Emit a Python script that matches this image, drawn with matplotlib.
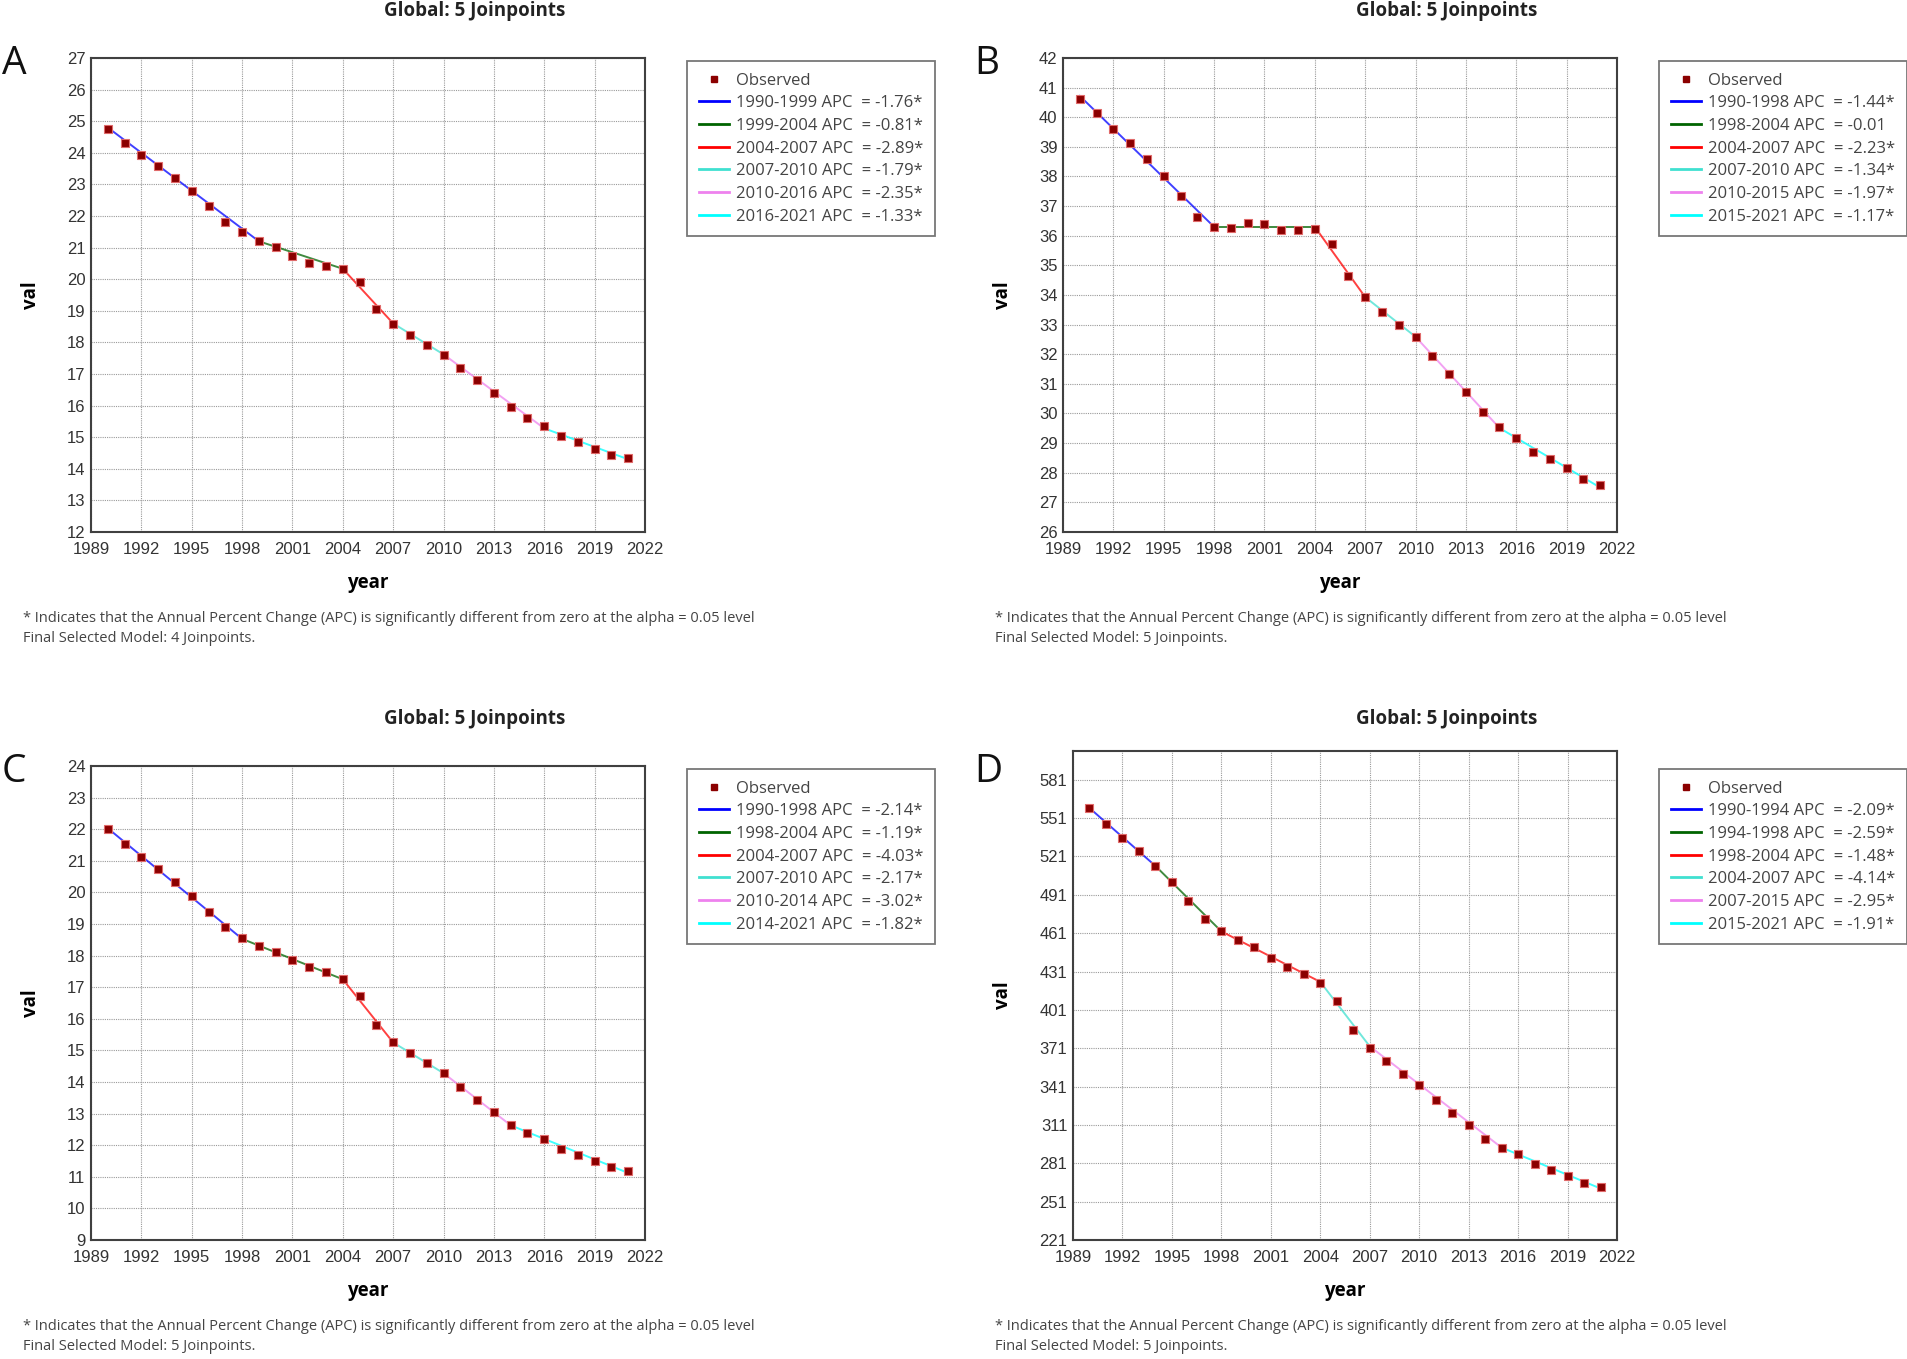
import matplotlib
matplotlib.use("Agg")
import matplotlib.pyplot as plt
from matplotlib.lines import Line2D
import numpy as np

years = list(range(1990, 2022))

obs_a = [24.75, 24.31, 23.93, 23.57, 23.19, 22.80, 22.31, 21.81, 21.48, 21.21,
         21.01, 20.72, 20.51, 20.41, 20.32, 19.91, 19.07, 18.57, 18.25, 17.93,
         17.61, 17.19, 16.80, 16.40, 15.96, 15.60, 15.35, 15.04, 14.84, 14.64,
         14.44, 14.33]
obs_b = [40.63, 40.14, 39.62, 39.14, 38.59, 38.02, 37.33, 36.64, 36.31, 36.25,
         36.42, 36.38, 36.21, 36.20, 36.22, 35.73, 34.63, 33.92, 33.44, 32.98,
         32.57, 31.94, 31.35, 30.72, 30.05, 29.55, 29.16, 28.70, 28.46, 28.15,
         27.80, 27.58]
obs_c = [22.00, 21.53, 21.12, 20.75, 20.33, 19.89, 19.37, 18.89, 18.56, 18.31,
         18.11, 17.85, 17.63, 17.48, 17.25, 16.71, 15.81, 15.27, 14.92, 14.60,
         14.27, 13.84, 13.44, 13.04, 12.65, 12.39, 12.19, 11.88, 11.68, 11.49,
         11.31, 11.17]
obs_d = [558.9, 546.7, 535.5, 525.0, 513.4, 500.9, 486.1, 472.1, 462.7, 455.7,
         450.1, 441.9, 434.6, 428.7, 422.1, 407.9, 385.5, 371.0, 361.1, 351.2,
         342.0, 330.8, 320.6, 310.7, 300.1, 293.2, 288.3, 280.7, 275.7, 270.8,
         265.5, 262.2]

# joinpoint years and fitted values at them
knots_a = [1990, 1999, 2004, 2007, 2010, 2016, 2021]
fit_a = [24.80, 21.20, 20.33, 18.60, 17.62, 15.28, 14.30]
knots_b = [1990, 1998, 2004, 2007, 2010, 2015, 2021]
fit_b = [40.72, 36.30, 36.30, 33.93, 32.59, 29.51, 27.50]
knots_c = [1990, 1998, 2004, 2007, 2010, 2014, 2021]
fit_c = [22.03, 18.53, 17.25, 15.25, 14.28, 12.63, 11.12]
knots_d = [1990, 1994, 1998, 2004, 2007, 2015, 2021]
fit_d = [558.9, 513.6, 462.4, 422.9, 372.5, 293.3, 261.3]

apc_a = ["-1.76*", "-0.81*", "-2.89*", "-1.79*", "-2.35*", "-1.33*"]
apc_b = ["-1.44*", "-0.01", "-2.23*", "-1.34*", "-1.97*", "-1.17*"]
apc_c = ["-2.14*", "-1.19*", "-4.03*", "-2.17*", "-3.02*", "-1.82*"]
apc_d = ["-2.09*", "-2.59*", "-1.48*", "-4.14*", "-2.95*", "-1.91*"]

final_models = ["4", "5", "5", "5"]
panel_letters = ["A", "B", "C", "D"]

seg_colors = ["#0000ff", "#006400", "#ff0000", "#40e0d0", "#ee82ee", "#00ffff"]

W, H = 1908, 1359
fig = plt.figure(figsize=(W / 100, H / 100), dpi=100)

TXT = ["Open Sans", "DejaVu Sans"]
TICK = ["Liberation Sans", "DejaVu Sans"]


def px(x0, y0, x1, y1):
    # pixel box -> figure fraction rect
    return [x0 / W, 1 - y1 / H, (x1 - x0) / W, (y1 - y0) / H]


panels = [
    dict(rect=px(91, 58, 645, 532), obs=obs_a, knots=knots_a, fit=fit_a, apc=apc_a,
         ylim=(12, 27), yticks=np.arange(12, 28, 1), dx=0, dy=0),
    dict(rect=px(1063, 58, 1617, 532), obs=obs_b, knots=knots_b, fit=fit_b, apc=apc_b,
         ylim=(26, 42), yticks=np.arange(26, 43, 1), dx=972, dy=0),
    dict(rect=px(91, 766, 645, 1240), obs=obs_c, knots=knots_c, fit=fit_c, apc=apc_c,
         ylim=(9, 24), yticks=np.arange(9, 25, 1), dx=0, dy=708),
    dict(rect=px(1073, 751, 1617, 1240), obs=obs_d, knots=knots_d, fit=fit_d, apc=apc_d,
         ylim=(221, 603.5), yticks=np.arange(221, 582, 30), dx=972, dy=708),
]

for i, p in enumerate(panels):
    ax = fig.add_axes(p["rect"])
    dx, dy = p["dx"], p["dy"]
    w_px, h_px = p["rect"][2] * W, p["rect"][3] * H

    handles = [Line2D([], [], ls="none", marker="s", ms=4.5, mfc="#8b0000",
                      mec="#8b0000")]
    labels = ["Observed"]
    for k in range(len(p["knots"]) - 1):
        ax.plot(p["knots"][k:k + 2], p["fit"][k:k + 2], color=seg_colors[k],
                lw=1.4, alpha=0.75, zorder=2)
        handles.append(Line2D([], [], color=seg_colors[k], lw=2))
        labels.append(f"{p['knots'][k]}-{p['knots'][k + 1]} APC  = {p['apc'][k]}")

    ax.plot(years, p["obs"], ls="none", marker="s", ms=6, mfc="#8b0000",
            mec="#e06a6a", mew=0.8, zorder=3)

    ax.set_xlim(1989, 2022)
    ax.set_xticks(range(1989, 2023, 3))
    ax.set_ylim(*p["ylim"])
    ax.set_yticks(p["yticks"])
    ax.grid(True, color="#9a9a9a", ls=(0, (1, 1)), lw=0.8)
    ax.set_axisbelow(True)
    for s in ax.spines.values():
        s.set_color("#404040")
        s.set_linewidth(1.5)
    ax.tick_params(length=0, labelsize=12, labelcolor="#333333")
    ax.tick_params(axis="x", pad=7)
    ax.tick_params(axis="y", pad=4)
    for lab in ax.get_xticklabels() + ax.get_yticklabels():
        lab.set_fontfamily(TICK)

    ax.set_xlabel("year", fontsize=13.5, fontweight="bold", family=TXT)
    ax.set_ylabel("val", fontsize=13.5, fontweight="bold", family=TXT)
    ax.xaxis.set_label_coords(0.5, -41 / h_px)
    ax.yaxis.set_label_coords((-50 if i != 3 else -60) / w_px, 0.5)

    leg = ax.legend(handles, labels, loc="upper left",
                    bbox_to_anchor=((687 + dx) / W, 1 - (61 + dy) / H),
                    bbox_transform=fig.transFigure, frameon=True, fancybox=False,
                    prop=dict(family=TXT, size=12), handlelength=1.8,
                    handletextpad=0.45, labelspacing=0.4, borderpad=0.7,
                    borderaxespad=0)
    leg.get_frame().set_edgecolor("#555555")
    leg.get_frame().set_linewidth(1.3)
    for t in leg.get_texts():
        t.set_color("#444444")

    fig.text((475 + dx) / W, 1 - (11 + dy) / H, "Global: 5 Joinpoints",
             ha="center", va="center", fontsize=13.5, fontweight="bold",
             family=TXT, color="#222222")
    fig.text((2 + dx) / W, 1 - (64 + dy) / H, panel_letters[i], ha="left",
             va="center", fontsize=28, family=TXT, color="#111111")
    fig.text((23 + dx) / W, 1 - (619 + dy) / H,
             "* Indicates that the Annual Percent Change (APC) is significantly "
             "different from zero at the alpha = 0.05 level",
             ha="left", va="center", fontsize=10.55, family=TXT, color="#444444")
    fig.text((23 + dx) / W, 1 - (639 + dy) / H,
             f"Final Selected Model: {final_models[i]} Joinpoints.",
             ha="left", va="center", fontsize=10.55, family=TXT, color="#444444")

fig.savefig("out.png", dpi=100, facecolor="white")
